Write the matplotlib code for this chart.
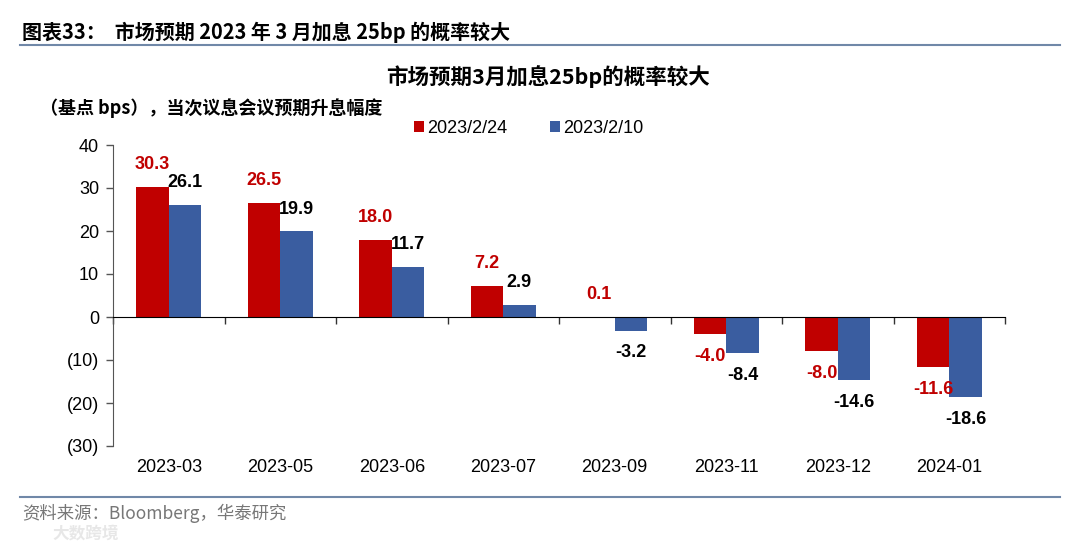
import matplotlib
matplotlib.use("Agg")
import matplotlib.pyplot as plt
import numpy as np
from matplotlib.ticker import FixedLocator, FuncFormatter

plt.rcParams['font.family'] = ['Liberation Sans', 'Noto Sans CJK SC', 'DejaVu Sans']

categories = ["2023-03", "2023-05", "2023-06", "2023-07", "2023-09", "2023-11", "2023-12", "2024-01"]
series_0224 = [30.3, 26.5, 18.0, 7.2, 0.1, -4.0, -8.0, -11.6]
series_0210 = [26.1, 19.9, 11.7, 2.9, -3.2, -8.4, -14.6, -18.6]
legend_labels = ["2023/2/24", "2023/2/10"]
yticks = [-30, -20, -10, 0, 10, 20, 30, 40]

RED = "#C00000"
BLUE = "#3A5DA0"
CJK = ['Noto Sans CJK SC', 'Liberation Sans', 'DejaVu Sans']

fig = plt.figure(figsize=(10.8, 5.43), dpi=100)
ax = fig.add_axes([113/1080, 1-446/543, (1005-113)/1080, (446-145)/543])

x = np.arange(len(categories))
w = 0.29
ax.bar(x - w/2, series_0224, w, color=RED, label=legend_labels[0], zorder=2)
ax.bar(x + w/2, series_0210, w, color=BLUE, label=legend_labels[1], zorder=2)

ax.set_xlim(-0.5, len(categories) - 0.5)
ax.set_ylim(-30, 40)
ax.yaxis.set_major_locator(FixedLocator(yticks))
ax.yaxis.set_major_formatter(FuncFormatter(lambda v, p: f"({abs(int(v))})" if v < 0 else f"{int(v)}"))
ax.tick_params(axis='y', direction='out', length=5, width=1, color="#555555", labelsize=13, pad=5)

for s in ['top', 'right']:
    ax.spines[s].set_visible(False)
ax.spines['left'].set_color("#555555")
ax.spines['bottom'].set_position(('data', 0))
ax.spines['bottom'].set_color("#000000")
ax.set_xticks(np.arange(-0.5, len(categories)), minor=False)
ax.set_xticklabels([])
ax.tick_params(axis='x', direction='out', length=5, width=1, color="#333333")

for xi, c in zip(x, categories):
    ax.text(xi, -0.07, c, transform=ax.get_xaxis_transform(), ha='center', va='center', fontsize=13)

def label(xs, vals, color):
    for xi, v in zip(xs, vals):
        off = 16 if v >= 0 else -16
        ax.annotate(f"{v:.1f}", (xi, v), xytext=(0, off), textcoords='offset points',
                    ha='center', va='center', fontsize=13, fontweight='bold', color=color, zorder=3)

label(x - w/2, series_0224, RED)
label(x + w/2, series_0210, "#000000")

leg = fig.legend(loc='center left', bbox_to_anchor=(398/1080, 1-128/543), ncol=2, frameon=False,
                 fontsize=13, handlelength=0.55, handleheight=0.55, handletextpad=0.15, columnspacing=2.4)

# header
fig.text(22/1080, 1-32/543, "图表33：  市场预期 2023 年 3 月加息 25bp 的概率较大", fontsize=14.4,
         fontweight='bold', va='center', ha='left', family=CJK)
fig.add_artist(plt.Line2D([20/1080, 1060/1080], [1-45/543, 1-45/543], color="#7088A8", lw=1.5))
fig.text(548/1080, 1-77/543, "市场预期3月加息25bp的概率较大", fontsize=15.5, fontweight='bold',
         va='center', ha='center', family=CJK)
fig.text(40/1080, 1-108/543, "（基点 bps），当次议息会议预期升息幅度", fontsize=13, fontweight='bold',
         va='center', ha='left', family=CJK)
fig.add_artist(plt.Line2D([20/1080, 1060/1080], [1-497/543, 1-497/543], color="#7088A8", lw=1.5))
fig.text(22/1080, 1-513/543, "资料来源：Bloomberg，华泰研究", fontsize=12.5, color="#777777",
         va='center', ha='left', family=CJK)
fig.text(52/1080, 1-533/543, "大数跨境", fontsize=12, color="#E2E2E2", alpha=0.8,
         va='center', ha='left', family=CJK, fontweight='bold')

fig.savefig("out.png", dpi=100)
